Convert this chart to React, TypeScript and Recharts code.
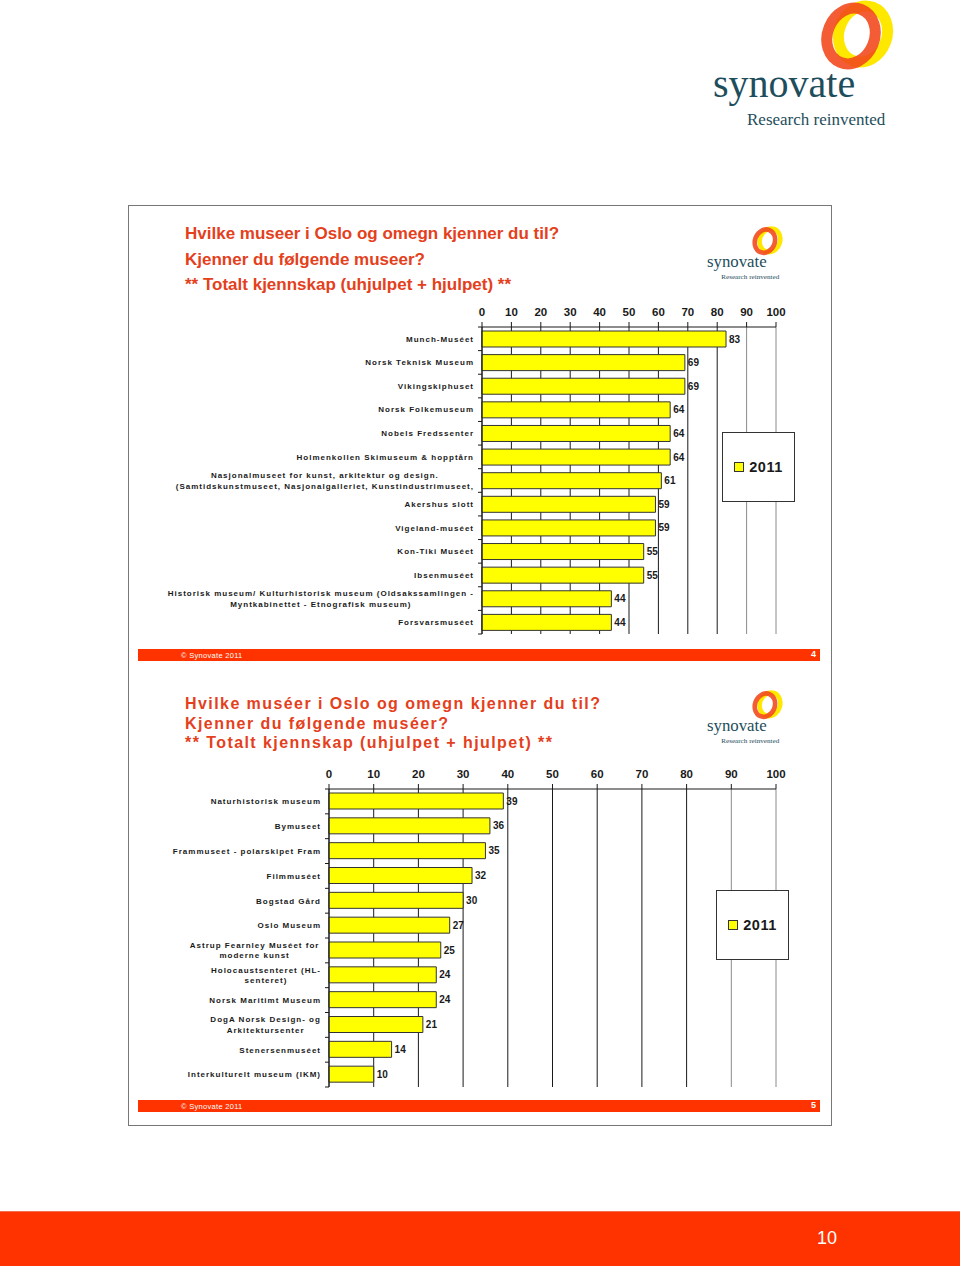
import React from 'react'
import { BarChart, Bar, XAxis, YAxis, CartesianGrid, LabelList, Legend } from 'recharts'

const ticks = [0, 10, 20, 30, 40, 50, 60, 70, 80, 90, 100]
const seriesName = '2011'

const museums1 = [
  'Munch-Muséet',
  'Norsk Teknisk Museum',
  'Vikingskiphuset',
  'Norsk Folkemuseum',
  'Nobels Fredssenter',
  'Holmenkollen Skimuseum & hopptårn',
  'Nasjonalmuseet for kunst, arkitektur og design.\n(Samtidskunstmuseet, Nasjonalgalleriet, Kunstindustrimuseet,',
  'Akershus slott',
  'Vigeland-muséet',
  'Kon-Tiki Muséet',
  'Ibsenmuséet',
  'Historisk museum/ Kulturhistorisk museum (Oldsakssamlingen -\nMyntkabinettet - Etnografisk museum)',
  'Forsvarsmuséet',
]
const values1 = [83, 69, 69, 64, 64, 64, 61, 59, 59, 55, 55, 44, 44]

const museums2 = [
  'Naturhistorisk museum',
  'Bymuseet',
  'Frammuseet - polarskipet Fram',
  'Filmmuséet',
  'Bogstad Gård',
  'Oslo Museum',
  'Astrup Fearnley Muséet  for\nmoderne kunst',
  'Holocaustsenteret (HL-\nsenteret)',
  'Norsk Maritimt Museum',
  'DogA Norsk Design- og\nArkitektursenter',
  'Stenersenmuséet',
  'Interkulturelt museum (IKM)',
]
const values2 = [39, 36, 35, 32, 30, 27, 25, 24, 24, 21, 14, 10]

const FONT = '"Liberation Sans", Arial, Helvetica, sans-serif'
const BAND = '#ff3300'
const TITLE = '#e4401c'
const INK = '#1a1a1a'

let ctx: CanvasRenderingContext2D | null = null
function measure(s: string, spacing: number) {
  if (!ctx && typeof document !== 'undefined') ctx = document.createElement('canvas').getContext('2d')
  if (!ctx) return s.length * 6
  ctx.font = `bold 8px ${FONT}`
  return ctx.measureText(s).width + spacing * s.length
}

function makeTick(step: number, count: number) {
  return (props: any) => {
    const { x, y, payload, index } = props
    const axisX = x + 8
    const lines = String(payload.value).split('\n')
    const maxW = Math.max(...lines.map((l) => measure(l, 1)))
    const cx = x - maxW / 2
    return (
      <g>
        <line x1={axisX - 4} x2={axisX} y1={y - step / 2} y2={y - step / 2} stroke={INK} />
        {index === count - 1 && <line x1={axisX - 4} x2={axisX} y1={y + step / 2} y2={y + step / 2} stroke={INK} />}
        <text fontFamily={FONT} fontSize={8} fontWeight="bold" letterSpacing={1} fill={INK} textAnchor="middle">
          {lines.map((l, i) => (
            <tspan key={i} x={cx} y={y + (i - (lines.length - 1) / 2) * 10.5} dy="0.35em">{l}</tspan>
          ))}
        </text>
      </g>
    )
  }
}

function LegendBox(props: any) {
  const items = props.payload || []
  return (
    <div style={{ width: 73, height: 70, boxSizing: 'border-box', border: '1px solid #333', background: '#fff', display: 'flex', alignItems: 'center', justifyContent: 'center' }}>
      {items.map((it: any) => (
        <div key={it.value} style={{ display: 'flex', alignItems: 'center', fontFamily: FONT, fontWeight: 'bold', fontSize: 14.5, color: INK, letterSpacing: 0.5 }}>
          <span style={{ width: 8, height: 8, background: '#ffff00', border: '1px solid #333', marginRight: 5, display: 'inline-block' }} />
          {it.value}
        </div>
      ))}
    </div>
  )
}

interface ChartProps {
  names: string[]
  values: number[]
  top: number
  height: number
  axisWidth: number
  legendLeft: number
  legendTop: number
}

function MuseumChart({ names, values, top, height, axisWidth, legendLeft, legendTop }: ChartProps) {
  const data = names.map((name, i) => ({ name, value: values[i] }))
  const width = 660
  const mTop = 0, mBottom = 1, mRight = 44, xh = 32
  const plotW = width - axisWidth - mRight
  const plotH = height - mTop - mBottom - xh
  const step = plotH / names.length
  const grayFrom = axisWidth + plotW * 0.85
  return (
    <div style={{ position: 'absolute', left: 160, top }}>
      <BarChart layout="vertical" width={width} height={height} data={data}
        margin={{ top: mTop, right: mRight, bottom: mBottom, left: 0 }}>
        <CartesianGrid horizontal={false}
          vertical={(p: any) => (
            <line key={p.key} x1={p.x1} y1={p.y1} x2={p.x2} y2={p.y2}
              stroke={p.x1 > grayFrom ? '#8a8a8a' : INK} strokeWidth={1} />
          )} />
        <XAxis type="number" orientation="top" domain={[0, 100]} ticks={ticks} interval={0} height={xh}
          tick={{ fontSize: 11.5, fontWeight: 'bold', fill: INK, fontFamily: FONT }}
          axisLine={{ stroke: INK }} tickLine={{ stroke: INK }} tickSize={5} tickMargin={6} />
        <YAxis type="category" dataKey="name" width={axisWidth} interval={0}
          tick={makeTick(step, names.length)} tickLine={false} tickSize={6} tickMargin={2}
          axisLine={{ stroke: INK }} />
        <Legend layout="vertical" align="center" verticalAlign="middle" content={<LegendBox />}
          wrapperStyle={{ left: legendLeft, top: legendTop, width: 73, height: 70 }} />
        <Bar dataKey="value" name={seriesName} fill="#ffff00" stroke="#333" strokeWidth={1} barSize={16} isAnimationActive={false}>
          <LabelList dataKey="value" position="right" offset={3}
            style={{ fontSize: 10, fontWeight: 'bold', fill: INK, fontFamily: FONT }} />
        </Bar>
      </BarChart>
    </div>
  )
}

function Logo({ tx, ty, s }: { tx: number; ty: number; s: number }) {
  return (
    <g transform={`translate(${tx},${ty}) scale(${s})`}>
      <ellipse cx={863} cy={34} rx={24} ry={28.5} fill="none" stroke="#ffe800" strokeWidth={11} transform="rotate(20 863 34)" />
      <ellipse cx={851} cy={36} rx={23.5} ry={28.5} fill="none" stroke="#f2461a" strokeWidth={11} opacity={0.88} transform="rotate(22 851 36)" />
      <text x={713} y={97} fontFamily='"Liberation Serif", "DejaVu Serif", serif' fontSize={40} fill="#1e4d5c">synovate</text>
      <text x={747} y={125} fontFamily='"Liberation Serif", "DejaVu Serif", serif' fontSize={17} fill="#1e4d5c">Research reinvented</text>
    </g>
  )
}

function Footer({ top, page }: { top: number; page: string }) {
  return (
    <div style={{ position: 'absolute', left: 138, top, width: 682, height: 12, background: BAND, fontFamily: FONT, color: '#fff' }}>
      <span style={{ position: 'absolute', left: 43, top: 2, fontSize: 7.5, letterSpacing: 0.3 }}>© Synovate 2011</span>
      <span style={{ position: 'absolute', right: 4, top: 0, fontSize: 9, fontWeight: 'bold' }}>{page}</span>
    </div>
  )
}

export default function App() {
  const t1 = { fontFamily: FONT, fontWeight: 'bold' as const, color: TITLE, fontSize: 17, lineHeight: '25.5px', whiteSpace: 'nowrap' as const }
  const t2 = { fontFamily: FONT, fontWeight: 'bold' as const, color: TITLE, fontSize: 16, letterSpacing: 1.43, lineHeight: '19.5px', whiteSpace: 'nowrap' as const }
  return (
    <div style={{ position: 'absolute', left: 0, top: 0, width: 960, height: 1266, background: '#fff', overflow: 'hidden' }}>
      <svg width={960} height={1266} style={{ position: 'absolute', left: 0, top: 0 }}>
        <Logo tx={0} ty={0} s={1} />
        <Logo tx={407.5} ty={226} s={0.42} />
        <Logo tx={407.5} ty={690} s={0.42} />
      </svg>
      <div style={{ position: 'absolute', left: 128, top: 205, width: 704, height: 921, boxSizing: 'border-box', border: '1px solid #777' }} />

      <div style={{ ...t1, position: 'absolute', left: 185, top: 221 }}>
        <div>Hvilke museer i Oslo og omegn kjenner du til?</div>
        <div>Kjenner du følgende museer?</div>
        <div>** Totalt kjennskap (uhjulpet + hjulpet) **</div>
      </div>
      <MuseumChart names={museums1} values={values1} top={295} height={340} axisWidth={322} legendLeft={562} legendTop={137} />
      <Footer top={649} page="4" />

      <div style={{ ...t2, position: 'absolute', left: 185, top: 694 }}>
        <div>Hvilke muséer i Oslo og omegn kjenner du til?</div>
        <div>Kjenner du følgende muséer?</div>
        <div>** Totalt kjennskap (uhjulpet + hjulpet) **</div>
      </div>
      <MuseumChart names={museums2} values={values2} top={757} height={331} axisWidth={169} legendLeft={556} legendTop={133} />
      <Footer top={1100} page="5" />

      <div style={{ position: 'absolute', left: 0, top: 1211, width: 960, height: 55, background: BAND, borderTop: '1px solid #f07050', boxSizing: 'border-box' }}>
        <span style={{ position: 'absolute', left: 817, top: 16, fontFamily: FONT, fontSize: 18, color: '#fff' }}>10</span>
      </div>
    </div>
  )
}
